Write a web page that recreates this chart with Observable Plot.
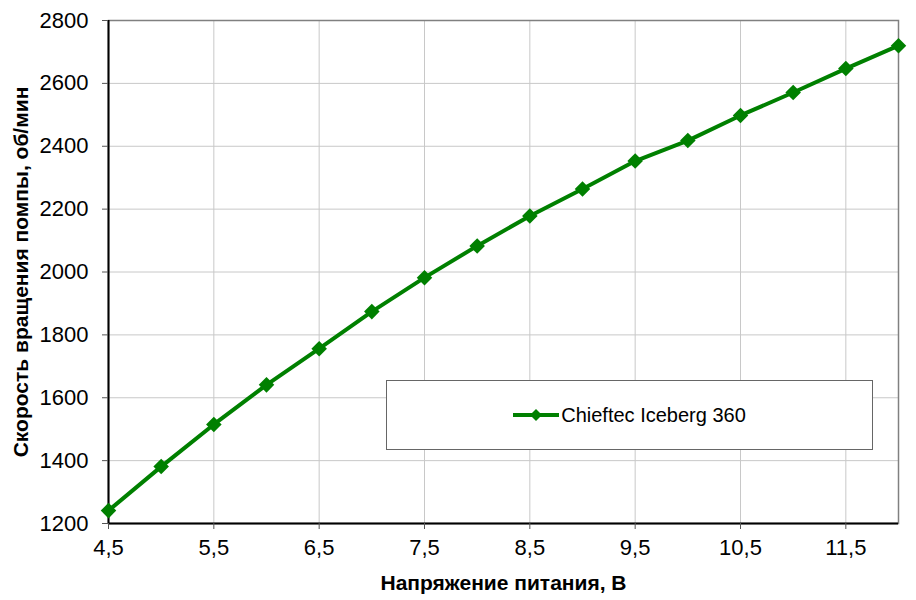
<!DOCTYPE html>
<html><head><meta charset="utf-8">
<script src="https://cdn.jsdelivr.net/npm/d3@7"></script>
<script src="https://cdn.jsdelivr.net/npm/@observablehq/plot@0.6"></script>
<style>
body{margin:0;background:#fff;}
#wrap{position:relative;width:916px;height:600px;font-family:"Liberation Sans",Arial,sans-serif;}
#wrap svg text{font-size:22px;}
#wrap svg g[aria-label="x-axis label"] text, #wrap svg g[aria-label="y-axis label"] text{font-weight:bold;font-size:21px;}
#legend{position:absolute;left:386px;top:380px;width:485px;height:68px;border:1px solid #666;background:#fff;display:flex;align-items:center;justify-content:center;font-size:20px;color:#000;}
#legend svg{margin-right:2px;}
</style></head>
<body><div id="wrap"></div>
<script>
const series = "Chieftec Iceberg 360";
const voltage = [4.5,5,5.5,6,6.5,7,7.5,8,8.5,9,9.5,10,10.5,11,11.5,12];
const rpm = [1241,1381,1515,1641,1756,1874,1982,2083,2178,2264,2353,2418,2498,2571,2647,2720];
const xTicks = [4.5,5.5,6.5,7.5,8.5,9.5,10.5,11.5];
const yTicks = [1200,1400,1600,1800,2000,2200,2400,2600,2800];
const xDomain = [4.5,12];
const yDomain = [1200,2800];
const xLabel = "Напряжение питания, В";
const yLabel = "Скорость вращения помпы, об/мин";
const color = "#008000";

const data = voltage.map((v,i)=>({v, r: rpm[i]}));
const fmt = d => String(d).replace(".", ",");

const chart = Plot.plot({
  width: 916, height: 600,
  marginLeft: 108, marginRight: 18, marginTop: 20, marginBottom: 77,
  style: {fontFamily: '"Liberation Sans", Arial, sans-serif', color: "#000", background: "#fff"},
  x: {domain: xDomain},
  y: {domain: yDomain},
  marks: [
    Plot.gridX(xTicks, {stroke: "#c8c8c8", strokeOpacity: 1}),
    Plot.gridY(yTicks, {stroke: "#c8c8c8", strokeOpacity: 1}),
    Plot.frame({stroke: "#808080", strokeWidth: 1.5}),
    Plot.ruleX([xDomain[0]], {stroke: "#000", strokeWidth: 2}),
    Plot.ruleY([yDomain[0]], {stroke: "#000", strokeWidth: 2}),
    Plot.axisX(xTicks, {tickFormat: fmt, tickSize: 6, tickPadding: 10, stroke: "#555", label: xLabel, labelAnchor: "center", labelArrow: "none", labelOffset: 66, fill: "#000"}),
    Plot.axisY(yTicks, {tickFormat: d => String(d), tickSize: 6, tickPadding: 14, stroke: "#555", label: yLabel, labelAnchor: "center", labelArrow: "none", labelOffset: 95, fill: "#000"}),
    Plot.line(data, {x: "v", y: "r", stroke: color, strokeWidth: 4}),
    Plot.dot(data, {x: "v", y: "r", symbol: "diamond2", r: 7, fill: color, stroke: "none"})
  ]
});
const wrap = document.getElementById("wrap");
wrap.appendChild(chart);
const leg = document.createElement("div");
leg.id = "legend";
leg.innerHTML = `<svg width="46" height="14"><line x1="0" x2="46" y1="7" y2="7" stroke="${color}" stroke-width="4"/><path d="M23,1L29,7L23,13L17,7Z" fill="${color}"/></svg><span>${series}</span>`;
wrap.appendChild(leg);
</script></body></html>
